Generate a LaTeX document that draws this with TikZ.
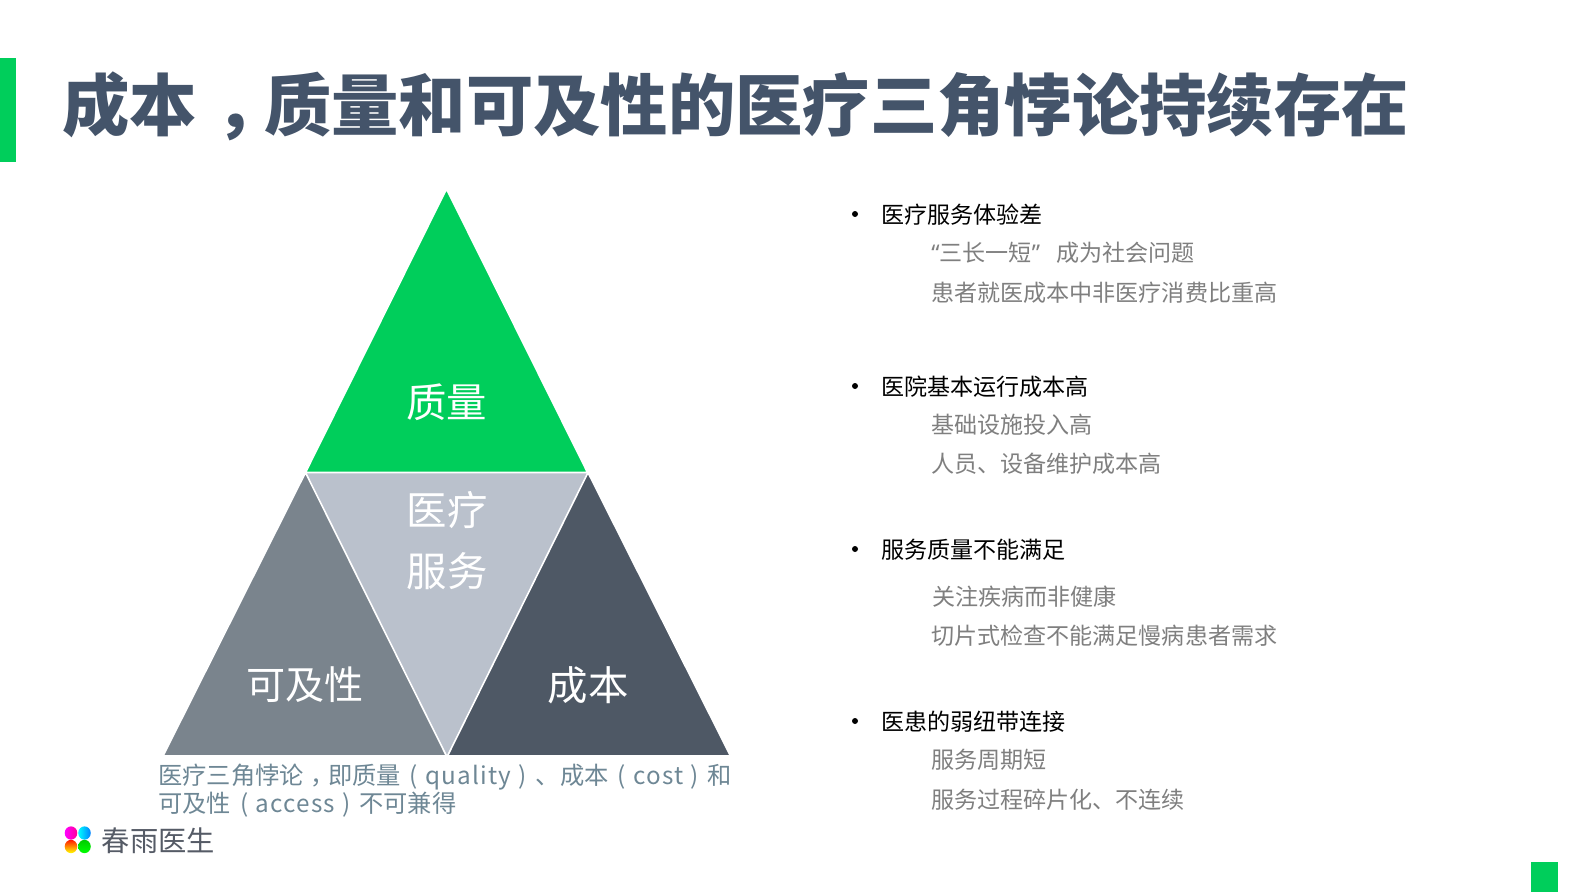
\documentclass[tikz,border=0pt]{standalone}
\usepackage{fontspec}
\setmainfont{Noto Sans CJK SC}
\newfontfamily\latf{Noto Sans}
\definecolor{brand}{HTML}{00CE5B}
\definecolor{titlec}{HTML}{44546A}
\definecolor{graytri}{HTML}{7A848D}
\definecolor{darktri}{HTML}{4E5865}
\definecolor{lighttri}{HTML}{BAC1CC}
\definecolor{subc}{HTML}{7F7F7F}
\definecolor{capc}{HTML}{6E8795}
\definecolor{logoc}{HTML}{555B66}
\newcommand{\lpar}{\kern6.8pt(\kern5.4pt}
\newcommand{\rpar}{\kern5.4pt)\kern6.8pt}
\newcommand{\midcomma}{\makebox[1em][l]{\kern.27em ，}}
\newcommand{\spaced}[1]{{\addfontfeature{LetterSpace=5}#1}}
\usetikzlibrary{shapes.geometric}
\tikzset{
  tri/.style={draw=white,line width=1.2pt,line join=miter},
  trilabel/.style={text=white,font=\fontsize{30.3}{45}\selectfont,align=center,inner sep=0pt},
  head/.style={anchor=west,inner sep=0pt,text=black,font=\fontsize{17.3}{20}\selectfont},
  sub/.style={anchor=west,inner sep=0pt,text=subc,font=\fontsize{17.3}{20}\selectfont},
  dot/.style={circle,fill=black,inner sep=0pt,minimum size=4.5pt},
  captext/.style={anchor=west,inner sep=0pt,text=capc,font=\fontsize{18.2}{20}\selectfont},
  petal/.style={ellipse,inner sep=0pt,minimum width=9.4pt,minimum height=10pt}
}
\begin{document}
\begin{tikzpicture}[x=0.75pt,y=-0.75pt]
\useasboundingbox (0,0) rectangle (1587,892);
\fill[white] (0,0) rectangle (1587,892);
% bars
\fill[brand] (0,58) rectangle (16,162);
\fill[brand] (1531,862) rectangle (1558,892);
% title
\node[anchor=west,inner sep=0pt,text=titlec,font=\fontsize{50.5}{60}\selectfont\bfseries] (title) at (62,106) {成本\midcomma 质量和可及性的医疗三角悖论持续存在};
% triangles
\fill[lighttri] (305.5,472.5) -- (588,472.5) -- (447,756) -- cycle;
\path[tri,fill=brand] (446.5,189) -- (587.5,472.5) -- (305.5,472.5) -- cycle;
\path[tri,fill=graytri] (305.5,472.5) -- (446.5,756) -- (163,756) -- cycle;
\path[tri,fill=darktri] (588,472.5) -- (730.5,756) -- (447.5,756) -- cycle;
\node[trilabel] (q) at (446.5,402) {质量};
\node[trilabel] (m1) at (447,510) {医疗};
\node[trilabel] (m2) at (447,571) {服务};
\node[trilabel,font=\fontsize{29.3}{45}\selectfont] (a) at (305,685) {可及性};
\node[trilabel] (c) at (588,685) {成本};
% caption
\node[captext] (cap1) at (158,777.5) {医疗三角悖论\midcomma 即质量\lpar\spaced{quality}\rpar 、成本\lpar\spaced{cost}\rpar 和};
\node[captext] (cap2) at (158,804.5) {可及性\lpar\spaced{access}\rpar 不可兼得};
% logo
\node[petal,left color=magenta,right color=red!40!magenta] (p1) at (71,833) {};
\node[petal,left color=cyan,right color=blue!50!cyan] (p2) at (84.5,833) {};
\node[petal,top color=red!80!orange,bottom color=yellow] (p3) at (71,846.5) {};
\node[petal,top color=green!80!black,bottom color=green] (p4) at (84.5,846.5) {};
\node[anchor=west,inner sep=0pt,text=logoc,font=\fontsize{21.2}{24}\selectfont] (logo) at (101.5,841) {春雨医生};
% right list
\node[dot] (d1) at (855,214) {};
\node[head] (h1) at (881,215) {医疗服务体验差};
\node[sub] (s11) at (931,253) {{\latf “}三长一短{\latf ”}\kern12pt 成为社会问题};
\node[sub] (s12) at (931,293) {患者就医成本中非医疗消费比重高};
\node[dot] (d2) at (855,386) {};
\node[head] (h2) at (881,387) {医院基本运行成本高};
\node[sub] (s21) at (931,425) {基础设施投入高};
\node[sub] (s22) at (931,464) {人员、设备维护成本高};
\node[dot] (d3) at (855,549) {};
\node[head] (h3) at (881,550) {服务质量不能满足};
\node[sub] (s31) at (932,597) {关注疾病而非健康};
\node[sub] (s32) at (931,636) {切片式检查不能满足慢病患者需求};
\node[dot] (d4) at (855,721) {};
\node[head] (h4) at (881,722) {医患的弱纽带连接};
\node[sub] (s41) at (931,760) {服务周期短};
\node[sub] (s42) at (931,800) {服务过程碎片化、不连续};
\end{tikzpicture}
\end{document}
